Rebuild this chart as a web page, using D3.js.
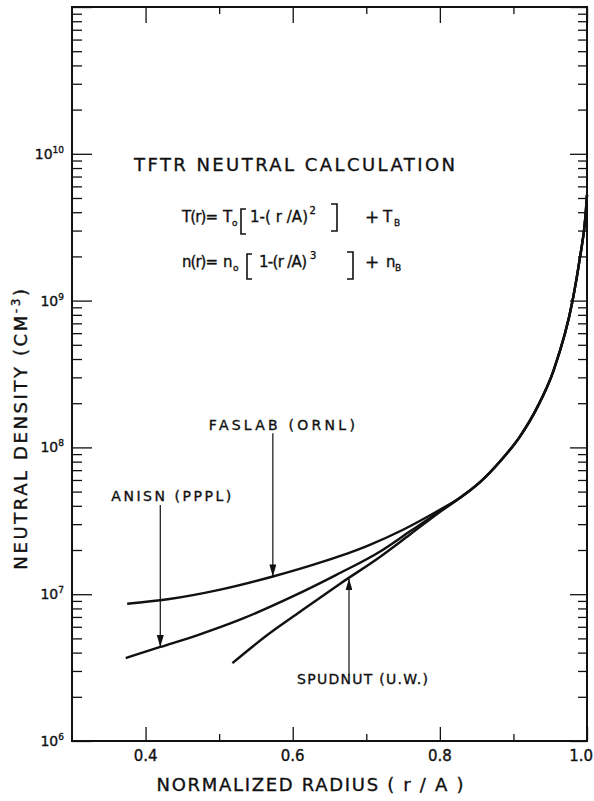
<!DOCTYPE html>
<html>
<head>
<meta charset="utf-8">
<script src="https://cdn.jsdelivr.net/npm/d3@7"></script>
<style>
body { margin: 0; background: #fff; }
text { font-family: "DejaVu Sans", sans-serif; fill: #111; stroke: #111; stroke-width: 0.35; }
.tick line { stroke: #111; stroke-width: 1.3; }
</style>
</head>
<body>
<script>
// values
var radiusFaslab = [0.375, 0.43, 0.50, 0.573, 0.64, 0.70, 0.75, 0.80]
var densityFaslab = [8.61e6, 9.23e6, 1.07e7, 1.32e7, 1.66e7, 2.12e7, 2.75e7, 3.76e7]
var radiusAnisn = [0.373, 0.42, 0.47, 0.53, 0.60, 0.66, 0.72, 0.76, 0.80]
var densityAnisn = [3.67e6, 4.37e6, 5.25e6, 6.76e6, 9.66e6, 1.36e7, 1.97e7, 2.69e7, 3.67e7]
var radiusSpudnut = [0.518, 0.565, 0.61, 0.664, 0.719, 0.759, 0.80]
var densitySpudnut = [3.39e6, 5.25e6, 7.59e6, 1.175e7, 1.8e7, 2.54e7, 3.63e7]
// all three codes agree beyond r/A ~ 0.82
var radiusTail = [0.827, 0.855, 0.882, 0.909, 0.932, 0.955, 0.98, 0.99, 0.998, 1.0]
var densityTail = [4.52e7, 5.82e7, 8.04e7, 1.19e8, 1.86e8, 3.39e8, 9.77e8, 1.91e9, 3.8e9, 5.25e9]

var xMajor = [0.4, 0.6, 0.8, 1.0]
var xMinor = [0.5, 0.7, 0.9]
var xLabels = ["0.4", "0.6", "0.8", "1.0"]
var yExponents = [6, 7, 8, 9, 10]

// annotation arrows: label, radius of arrow, density at tail, density at tip
var noteText = ["FASLAB (ORNL)", "ANISN (PPPL)", "SPUDNUT (U.W.)"]
var noteRadius = [0.573, 0.42, 0.6765]
var noteFrom = [1.25e8, 4.05e7, 2.8e6]
var noteTo = [1.32e7, 4.37e6, 1.28e7]

var width = 594, height = 801
var plotLeft = 72, plotRight = 587, plotTop = 7, plotBottom = 741

var svg = d3.select("body").append("svg")
    .attr("width", width).attr("height", height)

var x = d3.scaleLinear().domain([0.3, 1.0]).range([plotLeft, plotRight])
var y = d3.scaleLog().domain([1e6, 1e11]).range([plotBottom, plotTop])

var yAll = y.ticks()
var yMajor = yAll.filter(function(d) { return Math.abs(Math.log10(d) - Math.round(Math.log10(d))) < 1e-9 })
var yMinor = yAll.filter(function(d) { return yMajor.indexOf(d) < 0 })

function ticks(axis, values, size, tx, ty) {
    var g = svg.append("g")
        .attr("transform", "translate(" + tx + "," + ty + ")")
        .call(axis.tickValues(values).tickFormat("").tickSizeInner(-size).tickSizeOuter(0))
    g.select(".domain").remove()
}

ticks(d3.axisLeft(y), yMajor, 20, plotLeft, 0)
ticks(d3.axisLeft(y), yMinor, 10, plotLeft, 0)
ticks(d3.axisRight(y), yMajor, 17, plotRight, 0)
ticks(d3.axisRight(y), yMinor, 9, plotRight, 0)
ticks(d3.axisTop(x), xMajor, 16, 0, plotTop)
ticks(d3.axisTop(x), xMinor, 7, 0, plotTop)
ticks(d3.axisBottom(x), xMajor, 14, 0, plotBottom)
ticks(d3.axisBottom(x), xMinor, 7, 0, plotBottom)

// frame
svg.append("rect")
    .attr("x", plotLeft).attr("y", plotTop)
    .attr("width", plotRight - plotLeft).attr("height", plotBottom - plotTop)
    .attr("fill", "none").attr("stroke", "#111").attr("stroke-width", 2)

// tick labels
svg.append("g").selectAll("text").data(xMajor).enter().append("text")
    .attr("x", function(d) { return d == 1.0 ? width - 1 : x(d) })
    .attr("y", plotBottom + 20)
    .attr("text-anchor", function(d) { return d == 1.0 ? "end" : "middle" })
    .attr("font-size", 15)
    .text(function(d, i) { return xLabels[i] })

var yl = svg.append("g").selectAll("text").data(yExponents).enter().append("text")
    .attr("x", plotLeft - 8)
    .attr("y", function(d) { return y(Math.pow(10, d)) + 5 })
    .attr("text-anchor", "end")
    .attr("font-size", 14)
yl.append("tspan").text("10")
yl.append("tspan").attr("font-size", 9).attr("dy", -6).text(function(d) { return d })

// axis titles
svg.append("text")
    .attr("x", 310).attr("y", plotBottom + 50)
    .attr("text-anchor", "middle")
    .attr("font-size", 18)
    .attr("textLength", 307).attr("lengthAdjust", "spacing")
    .text("NORMALIZED RADIUS ( r / A )")

var yt = svg.append("text")
    .attr("transform", "translate(27,428) rotate(-90)")
    .attr("text-anchor", "middle")
    .attr("font-size", 18)
    .attr("letter-spacing", 2.6)
yt.append("tspan").text("NEUTRAL DENSITY (CM")
yt.append("tspan").attr("font-size", 12).attr("dy", -7).text("-3")
yt.append("tspan").attr("dy", 7).text(")")

// curves
var line = d3.line()
    .x(function(d) { return x(d[0]) })
    .y(function(d) { return y(d[1]) })
    .curve(d3.curveMonotoneX)

var series = [
    [radiusFaslab, densityFaslab],
    [radiusAnisn, densityAnisn],
    [radiusSpudnut, densitySpudnut]
]
svg.append("g").selectAll("path").data(series).enter().append("path")
    .attr("d", function(s) {
        var pts = d3.zip(s[0].concat(radiusTail), s[1].concat(densityTail))
        return line(pts)
    })
    .attr("fill", "none").attr("stroke", "#111").attr("stroke-width", 2.4)

// arrows
svg.append("defs").append("marker")
    .attr("id", "head")
    .attr("markerUnits", "userSpaceOnUse")
    .attr("markerWidth", 12).attr("markerHeight", 7)
    .attr("refX", 12).attr("refY", 3.5)
    .attr("orient", "auto")
    .append("path").attr("d", "M0,0L12,3.5L0,7Z").attr("fill", "#111")

svg.append("g").selectAll("line").data(noteText).enter().append("line")
    .attr("x1", function(d, i) { return x(noteRadius[i]) })
    .attr("x2", function(d, i) { return x(noteRadius[i]) })
    .attr("y1", function(d, i) { return y(noteFrom[i]) })
    .attr("y2", function(d, i) { return y(noteTo[i]) })
    .attr("stroke", "#111").attr("stroke-width", 1.2)
    .attr("marker-end", "url(#head)")

var noteDx = [-64, -49, -52], noteDy = [-3, -4, 9], noteLen = [146, 120, 131]
svg.append("g").selectAll("text").data(noteText).enter().append("text")
    .attr("x", function(d, i) { return x(noteRadius[i]) + noteDx[i] })
    .attr("y", function(d, i) { return y(noteFrom[i]) + noteDy[i] })
    .attr("font-size", 14)
    .attr("textLength", function(d, i) { return noteLen[i] })
    .attr("lengthAdjust", "spacing")
    .text(function(d) { return d })

// title and profile formulas
svg.append("text")
    .attr("x", 134).attr("y", 171)
    .attr("font-size", 18)
    .attr("textLength", 321).attr("lengthAdjust", "spacing")
    .text("TFTR NEUTRAL CALCULATION")

function formula(g, parts, brackets) {
    parts.forEach(function(p) {
        var t = g.append("text").attr("x", p[1]).attr("y", p[2]).attr("font-size", p[3]).text(p[0])
        if (p[4]) t.attr("textLength", p[4]).attr("lengthAdjust", "spacing")
    })
    brackets.forEach(function(b) {
        var x0 = b[0], w = b[1], y0 = b[2], y1 = b[3]
        g.append("path")
            .attr("d", "M" + (x0 + w) + "," + y0 + "H" + x0 + "V" + y1 + "H" + (x0 + w))
            .attr("fill", "none").attr("stroke", "#111").attr("stroke-width", 1.6)
    })
}

var f1 = svg.append("g").attr("transform", "translate(182,222)")
formula(f1, [
    ["T(r)=", 0, 0, 15, 36],
    ["T", 41, 0, 15],
    ["o", 50, 4, 9],
    ["1-( r /A)", 68, 0, 15, 58],
    ["2", 127.5, -8, 10],
    ["+", 183, 1, 17],
    ["T", 201, 0, 15],
    ["B", 212, 4, 9]
], [[59, 5, -13, 12], [155, -6, -18, 9]])

var f2 = svg.append("g").attr("transform", "translate(182,267)")
formula(f2, [
    ["n(r)=", 0, 0, 15, 36],
    ["n", 41, 0, 15],
    ["o", 51, 4, 9],
    ["1-(r /A)", 77, 0, 15, 48],
    ["3", 128, -8, 10],
    ["+", 183, 1, 17],
    ["n", 204, 0, 15],
    ["B", 213, 4, 9]
], [[65, 5, -13, 12], [171, -6, -15, 12]])
</script>
</body>
</html>
